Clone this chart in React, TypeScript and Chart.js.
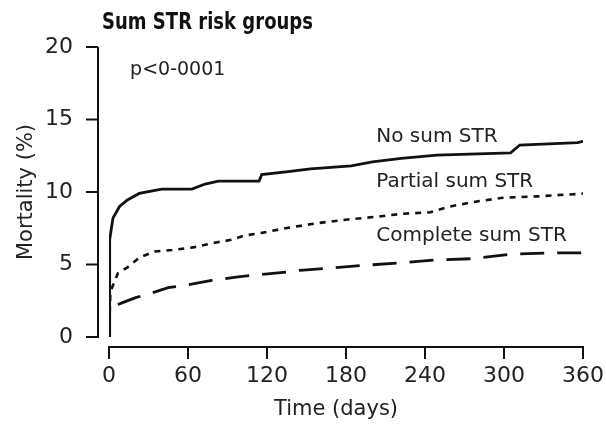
import React, { useEffect, useRef } from "react";
import { Chart, registerables } from "chart.js";

Chart.register(...registerables);

const CHART_TITLE = "Sum STR risk groups";
const P_VALUE_TEXT = "p<0-0001";
const X_TITLE = "Time (days)";
const Y_TITLE = "Mortality (%)";
const SERIES_NAMES = ["No sum STR", "Partial sum STR", "Complete sum STR"];

const X_MIN = 0;
const X_MAX = 360;
const X_STEP = 60;
const Y_MIN = 0;
const Y_MAX = 20;
const Y_STEP = 5;

const noSumDays = [0, 0.5, 3, 8, 14, 23, 40, 63, 73, 83, 103, 114, 116, 136, 153, 184, 200, 222, 249, 305, 312, 356, 360];
const noSumVals = [0, 6.7, 8.2, 9.0, 9.45, 9.9, 10.2, 10.2, 10.55, 10.75, 10.75, 10.75, 11.2, 11.4, 11.6, 11.8, 12.07, 12.32, 12.55, 12.7, 13.24, 13.4, 13.5];

const partialDays = [0, 1, 2.3, 6.8, 14, 23.5, 35, 48, 65, 80, 93, 103, 117, 134, 158, 181, 204, 223, 244, 259, 276, 299, 325, 355, 360];
const partialVals = [0, 3.0, 3.4, 4.4, 4.8, 5.5, 5.9, 6.0, 6.2, 6.5, 6.7, 7.0, 7.2, 7.5, 7.85, 8.1, 8.3, 8.5, 8.6, 9.0, 9.3, 9.6, 9.7, 9.86, 9.9];

const completeDays = [0, 0.5, 2.3, 8.4, 19.7, 31, 45, 60, 78, 98, 137, 145, 198, 219, 246, 276, 305, 333, 360];
const completeVals = [0, 1.6, 2.1, 2.3, 2.7, 3.0, 3.4, 3.6, 3.9, 4.15, 4.5, 4.6, 4.97, 5.1, 5.3, 5.4, 5.7, 5.8, 5.8];

// label anchors in data space: [day, mortality]
const LABEL_ANCHORS: [number, number][] = [
  [203, 13.8],
  [203, 10.7],
  [203, 7.0],
];
const P_ANCHOR: [number, number] = [16, 18.4];

const INK = "#111";
const TEXT = "#222";
const FONT = "'DejaVu Sans', sans-serif";

const toPoints = (xs: number[], ys: number[]) => xs.map((x, i) => ({ x, y: ys[i] }));

const annotationPlugin = {
  id: "kmAnnotations",
  afterDraw(chart: any) {
    const { ctx, chartArea, scales } = chart;
    const xs = scales.x;
    const ys = scales.y;
    ctx.save();
    // detached axes
    ctx.strokeStyle = INK;
    ctx.lineWidth = 2;
    ctx.lineCap = "butt";
    const axisX = chartArea.left - 11;
    const axisY = chartArea.bottom + 10;
    ctx.beginPath();
    ctx.moveTo(axisX, ys.getPixelForValue(Y_MAX));
    ctx.lineTo(axisX, ys.getPixelForValue(Y_MIN) + 1);
    ys.ticks.forEach((t: any) => {
      const py = ys.getPixelForValue(t.value);
      ctx.moveTo(axisX, py);
      ctx.lineTo(axisX - 12, py);
    });
    ctx.moveTo(xs.getPixelForValue(X_MIN) - 1, axisY);
    ctx.lineTo(xs.getPixelForValue(X_MAX) + 1, axisY);
    xs.ticks.forEach((t: any) => {
      const px = xs.getPixelForValue(t.value);
      ctx.moveTo(px, axisY);
      ctx.lineTo(px, axisY + 12);
    });
    ctx.stroke();

    // title (condensed bold face)
    ctx.fillStyle = INK;
    ctx.textBaseline = "middle";
    ctx.textAlign = "left";
    ctx.font = `bold 23px ${FONT}`;
    const tw = ctx.measureText(CHART_TITLE).width;
    const sx = 211 / tw;
    ctx.save();
    ctx.translate(chartArea.left - 7, 23);
    ctx.scale(sx, 1);
    ctx.fillText(CHART_TITLE, 0, 0);
    ctx.restore();

    // p value
    ctx.fillStyle = TEXT;
    ctx.font = `19px ${FONT}`;
    ctx.fillText(P_VALUE_TEXT, xs.getPixelForValue(P_ANCHOR[0]), ys.getPixelForValue(P_ANCHOR[1]));

    // series labels
    ctx.font = `20px ${FONT}`;
    SERIES_NAMES.forEach((name, i) => {
      const [dx, dy] = LABEL_ANCHORS[i];
      ctx.fillText(name, xs.getPixelForValue(dx), ys.getPixelForValue(dy));
    });

    // x axis title
    ctx.textAlign = "center";
    ctx.font = `21px ${FONT}`;
    ctx.fillText(X_TITLE, (chartArea.left + chartArea.right) / 2 - 10, 410);
    ctx.restore();
  },
};

export default function App() {
  const canvasRef = useRef<HTMLCanvasElement | null>(null);

  useEffect(() => {
    if (!canvasRef.current) return;
    const chart = new Chart(canvasRef.current, {
      type: "line",
      data: {
        datasets: [
          {
            label: SERIES_NAMES[0],
            data: toPoints(noSumDays, noSumVals),
            borderColor: INK,
            borderWidth: 2.8,
            pointRadius: 0,
            tension: 0,
          },
          {
            label: SERIES_NAMES[1],
            data: toPoints(partialDays, partialVals),
            borderColor: INK,
            borderWidth: 2.6,
            borderDash: [6, 6],
            pointRadius: 0,
            tension: 0,
          },
          {
            label: SERIES_NAMES[2],
            data: toPoints(completeDays, completeVals),
            borderColor: INK,
            borderWidth: 2.8,
            borderDash: [24, 13],
            pointRadius: 0,
            tension: 0,
          },
        ],
      },
      options: {
        responsive: false,
        animation: false,
        devicePixelRatio: 1,
        layout: { padding: { top: 47, right: 23, left: 0, bottom: 0 } },
        plugins: {
          legend: { display: false },
          tooltip: { enabled: false },
          title: { display: false },
        },
        scales: {
          x: {
            type: "linear",
            min: X_MIN,
            max: X_MAX,
            grid: { display: false },
            border: { display: false },
            ticks: {
              stepSize: X_STEP,
              color: TEXT,
              font: { family: FONT, size: 22 },
              padding: 18,
              maxRotation: 0,
            },
            afterFit: (scale: any) => {
              scale.height = 87;
              scale.paddingLeft = 0;
              scale.paddingRight = 0;
            },
          },
          y: {
            type: "linear",
            min: Y_MIN,
            max: Y_MAX,
            grid: { display: false },
            border: { display: false },
            ticks: {
              stepSize: Y_STEP,
              color: TEXT,
              font: { family: FONT, size: 22 },
              padding: 28,
            },
            title: {
              display: true,
              text: Y_TITLE,
              color: TEXT,
              font: { family: FONT, size: 21 },
              padding: { top: 14, bottom: 0 },
            },
            afterFit: (scale: any) => {
              scale.width = 109;
              scale.paddingTop = 0;
              scale.paddingBottom = 0;
            },
          },
        },
      },
      plugins: [annotationPlugin],
    });
    return () => chart.destroy();
  }, []);

  return (
    <div style={{ position: "fixed", left: 0, top: 0, width: 606, height: 424, background: "#fff" }}>
      <canvas ref={canvasRef} width={606} height={424} style={{ width: 606, height: 424, display: "block" }} />
    </div>
  );
}
